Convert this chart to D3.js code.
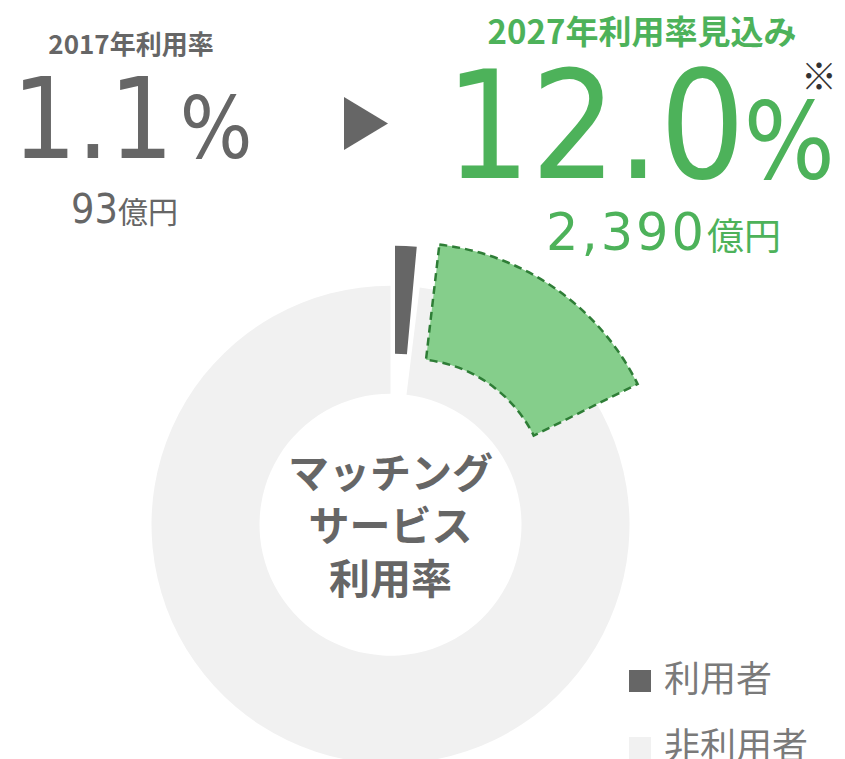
<!DOCTYPE html>
<html>
<head>
<meta charset="utf-8">
<script src="https://cdn.jsdelivr.net/npm/d3@7"></script>
<style>
  html, body { margin: 0; padding: 0; background: #fff; }
  svg { display: block; }
</style>
</head>
<body>
<svg id="chart" width="845" height="759"></svg>
<script>
// values
const years = ["2017", "2027"];
const usageRate = [1.1, 12.0];          // %
const marketSize = [93, 2390];          // 億円
const centerLines = ["マッチング", "サービス", "利用率"];
const legendLabels = ["利用者", "非利用者"];

const gray = "#666666",
      lightGray = "#f1f1f1",
      green = "#4db25a",
      greenFill = "#85ce8b",
      greenLine = "#2e7d36";

const latin = "'DejaVu Sans Condensed', 'DejaVu Sans', sans-serif",
      cjk = "'Noto Sans CJK JP', sans-serif";

var svg = d3.select("#chart");

// donut
var cx = 390.5, cy = 524.7,
    rIn = 131, rOut = 239;

// the picture exaggerates the slices a bit, 12% takes ~57 degrees
var angle = d3.scaleLinear().domain([0, 12]).range([0, 57 * Math.PI / 180]);
var deg = Math.PI / 180;

var g = svg.append("g").attr("transform", "translate(" + cx + "," + cy + ")");

var usedEnd = angle(usageRate[0]);

// non users ring
g.append("path")
  .attr("d", d3.arc().innerRadius(rIn).outerRadius(rOut)
    .startAngle(usedEnd + 1.8 * deg).endAngle(2 * Math.PI)())
  .attr("fill", lightGray);

// 2017 users, pulled out
g.append("path")
  .attr("transform", "translate(4.5,-40)")
  .attr("d", d3.arc().innerRadius(rIn).outerRadius(rOut)
    .startAngle(0).endAngle(usedEnd)())
  .attr("fill", gray);

// 2027 forecast slice
var gStart = usedEnd + 1.4 * deg,
    gEnd = gStart + angle(usageRate[1]),
    mid = (gStart + gEnd) / 2,
    pull = 34;
g.append("path")
  .attr("transform", "translate(" + (pull * Math.sin(mid)) + "," + (-pull * Math.cos(mid)) + ")")
  .attr("d", d3.arc().innerRadius(138).outerRadius(254)
    .startAngle(gStart).endAngle(gEnd)())
  .attr("fill", greenFill)
  .attr("stroke", greenLine)
  .attr("stroke-width", 2.5)
  .attr("stroke-dasharray", "8,5");

// center label
svg.append("g").selectAll("text")
  .data(centerLines)
  .enter().append("text")
  .attr("x", cx)
  .attr("y", function(d, i) { return 488 + i * 53; })
  .attr("text-anchor", "middle")
  .attr("font-family", cjk)
  .attr("font-weight", "bold")
  .attr("font-size", "41px")
  .attr("fill", gray)
  .text(function(d) { return d; });

// 2017 block
svg.append("text")
  .attr("x", 131).attr("y", 54)
  .attr("text-anchor", "middle")
  .attr("font-family", cjk).attr("font-weight", "bold")
  .attr("font-size", "26px").attr("fill", gray)
  .text(years[0] + "年利用率");

var t1 = svg.append("text")
  .attr("x", 12).attr("y", 158)
  .attr("fill", gray)
  .attr("font-family", latin);
t1.append("tspan").attr("font-size", "113px").text(d3.format(".1f")(usageRate[0]));
t1.append("tspan").attr("font-size", "85px").attr("dx", 6).text("%");

var t2 = svg.append("text")
  .attr("x", 71).attr("y", 223)
  .attr("fill", gray);
t2.append("tspan").attr("font-family", latin).attr("font-size", "41px").text(marketSize[0]);
t2.append("tspan").attr("font-family", cjk).attr("font-size", "30px").text("億円");

// arrow
svg.append("path")
  .attr("d", "M344,97L388,123.5L344,150Z")
  .attr("fill", gray);

// 2027 block
svg.append("text")
  .attr("x", 642).attr("y", 44)
  .attr("text-anchor", "middle")
  .attr("font-family", cjk).attr("font-weight", "bold")
  .attr("font-size", "33px").attr("fill", green)
  .text(years[1] + "年利用率見込み");

var t3 = svg.append("text")
  .attr("x", 445).attr("y", 178)
  .attr("fill", green)
  .attr("font-family", latin);
t3.append("tspan").attr("font-size", "150px").text(d3.format(".1f")(usageRate[1]));
t3.append("tspan").attr("font-size", "107px").attr("dx", -2).text("%");

svg.append("text")
  .attr("x", 819).attr("y", 90)
  .attr("text-anchor", "middle")
  .attr("font-family", cjk).attr("font-size", "36px")
  .attr("fill", "#333")
  .text("※");

var t4 = svg.append("text")
  .attr("x", 546).attr("y", 250)
  .attr("fill", green);
t4.append("tspan").attr("font-family", "'DejaVu Sans', sans-serif").attr("font-size", "51px")
  .attr("letter-spacing", 3).text(d3.format(",")(marketSize[1]));
t4.append("tspan").attr("font-family", cjk).attr("font-size", "37px").text("億円");

// legend
var legend = svg.append("g").selectAll("g")
  .data(legendLabels)
  .enter().append("g")
  .attr("transform", function(d, i) { return "translate(629," + (670 + i * 67) + ")"; });

legend.append("rect")
  .attr("width", 22).attr("height", 22)
  .attr("fill", function(d, i) { return i == 0 ? gray : lightGray; });

legend.append("text")
  .attr("x", 35).attr("y", 22)
  .attr("font-family", cjk).attr("font-size", "36px")
  .attr("fill", "#7a7a7a")
  .text(function(d) { return d; });
</script>
</body>
</html>
